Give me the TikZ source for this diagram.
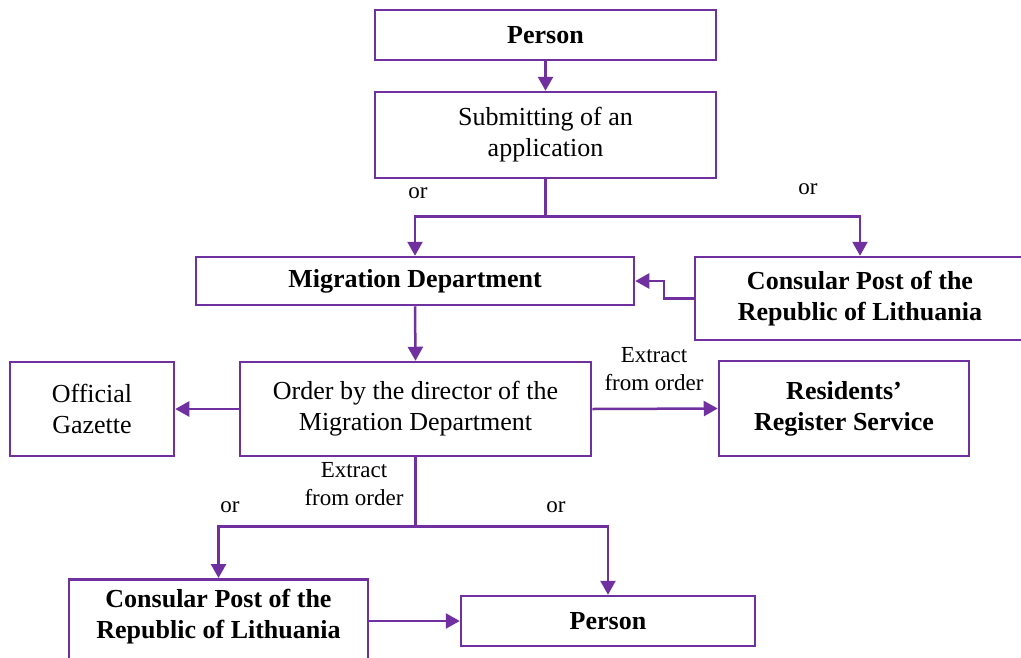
\documentclass[tikz,border=0pt]{standalone}
\usepackage{fontspec}
\setmainfont{Liberation Serif}
\usetikzlibrary{arrows.meta}
\definecolor{lpurple}{HTML}{7030A0}
\begin{document}
\begin{tikzpicture}[x=1pt,y=-1pt,
  box/.style={draw=lpurple, line width=2.5pt, rectangle, inner sep=0pt, align=center,
    font=\fontsize{26}{31}\selectfont},
  bbox/.style={box, font=\fontsize{26}{31}\selectfont\bfseries},
  lbl/.style={inner sep=0pt, align=center, font=\fontsize{23}{28}\selectfont},
  conn/.style={draw=lpurple, line width=2.5pt},
  arr/.style={conn, -{Triangle[length=14pt,width=15pt]}}]
\useasboundingbox (0,0) rectangle (1021,657);
\node[bbox, minimum width=341, minimum height=50] (p1) at (545.5,35) {\raisebox{-2pt}{Person}};
\node[box, minimum width=341, minimum height=86] (sub) at (545.5,135) {Submitting of an\\application};
\node[bbox, minimum width=438, minimum height=48] (mig) at (415,281) {\raisebox{-2pt}{Migration Department}};
\node[bbox, minimum width=330, minimum height=83] (cons1) at (860,298.5) {Consular Post of the\\Republic of Lithuania};
\node[box, minimum width=351, minimum height=94] (order) at (415.5,409) {Order by the director of the\\Migration Department};
\node[box, minimum width=164, minimum height=94] (gaz) at (92,409) {Official\\Gazette};
\node[bbox, minimum width=250, minimum height=95] (res) at (844,408.5) {Residents’\\Register Service};
\node[bbox, anchor=north] (cons2) at (218.5,578) {\parbox[t][100pt][t]{299pt}{\centering\vspace{10pt}Consular Post of the\\Republic of Lithuania}};
\node[bbox, minimum width=294, minimum height=50] (per2) at (608,621) {\raisebox{-2pt}{Person}};

\node[lbl] (or1) at (418,193) {or};
\node[lbl] (or2) at (808,189) {or};
\node[lbl] (or3) at (230,507) {or};
\node[lbl] (or4) at (556,507) {or};
\node[lbl] (ex1) at (654,369) {Extract\\from order};
\node[lbl] (ex2) at (354,484) {Extract\\from order};

\draw[arr] (p1.south) -- (sub.north);
\draw[conn] (sub.south) -- ++(0,37) coordinate (j1);
\draw[arr] (j1) -| (mig.north);
\draw[arr] (j1) -| (cons1.north);
\draw[arr] (cons1.west) -- ++(-30,0) |- (mig.east);
\draw[arr] (mig.south) -- (order.north);
\draw[arr] (order.west) -- (gaz.east);
\draw[arr] (order.east) -- (res.west);
\draw[conn] (order.south) -- ++(0,69) coordinate (j2);
\draw[arr] (j2) -| (cons2.north);
\draw[arr] (j2) -| (per2.north);
\draw[arr] (per2.west -| cons2.east) -- (per2.west);
\end{tikzpicture}
\end{document}
